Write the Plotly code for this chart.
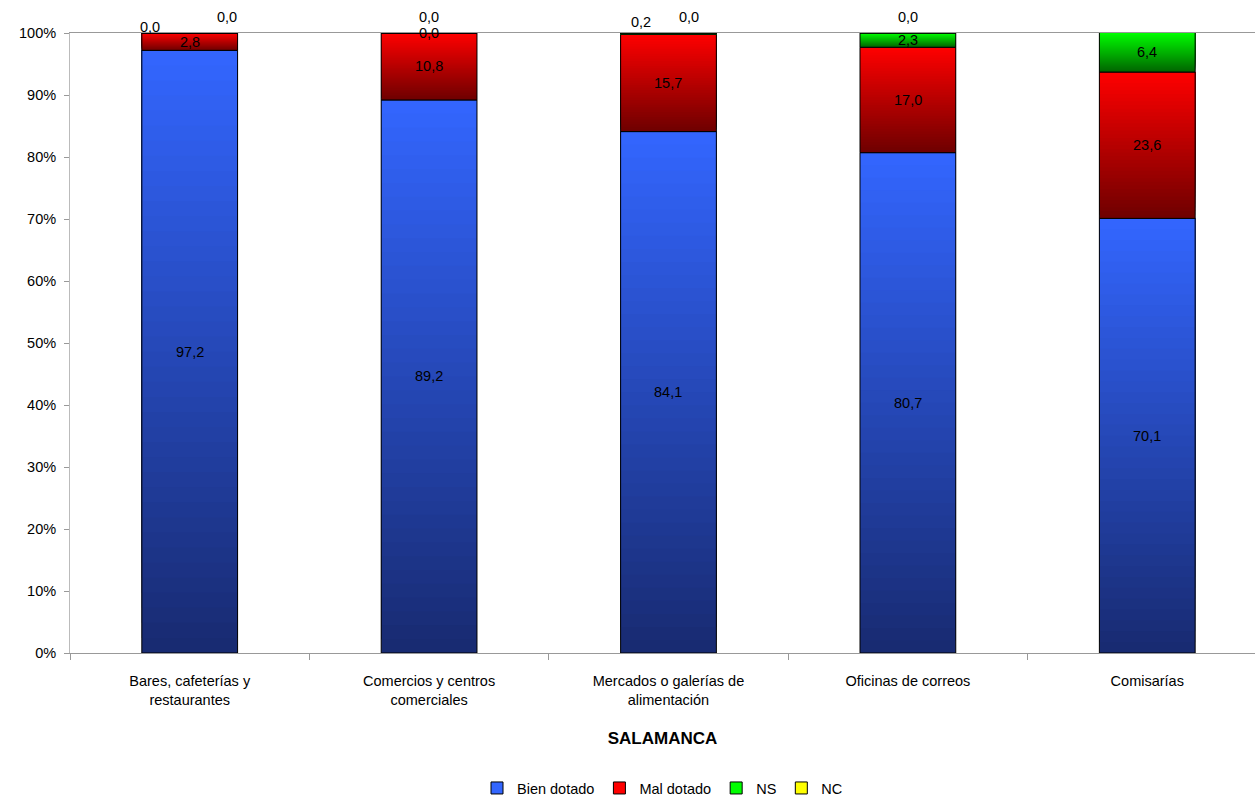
import plotly.graph_objects as go

categories = ["Bares, cafeterías y<br>restaurantes", "Comercios y centros<br>comerciales",
              "Mercados o galerías de<br>alimentación", "Oficinas de correos", "Comisarías"]
bien = [97.2, 89.2, 84.1, 80.7, 70.1]
mal = [2.8, 10.8, 15.7, 17.0, 23.6]
ns = [0.0, 0.0, 0.2, 2.3, 6.4]
nc = [0.0, 0.0, 0.0, 0.0, 0.0]
series_names = ["Bien dotado", "Mal dotado", "NS", "NC"]
series_vals = [bien, mal, ns, nc]
top_colors = [(51, 102, 255), (255, 0, 0), (0, 255, 0), (255, 255, 0)]
bottom_colors = [(24, 42, 112), (110, 0, 0), (0, 100, 0), (110, 110, 0)]
legend_colors = ["#3366FF", "#FF0000", "#00FF00", "#FFFF00"]
yticks = [0, 10, 20, 30, 40, 50, 60, 70, 80, 90, 100]
yticktext = ["%d%%" % v for v in yticks]

FONT = "Liberation Sans, Arial, sans-serif"
FS = 14.5
N = 40
W = 0.4

fig = go.Figure()

cum = [0.0] * len(categories)
bases_all = []
for si, vals in enumerate(series_vals):
    bases_all.append(list(cum))
    tc, bc = top_colors[si], bottom_colors[si]
    for k in range(N):
        t = (k + 0.5) / N
        col = tuple(int(round(bc[j] + (tc[j] - bc[j]) * t)) for j in range(3))
        fig.add_trace(go.Bar(
            x=categories,
            y=[v * (N - k) / N for v in vals],
            base=[c + v * k / N for c, v in zip(cum, vals)],
            width=W,
            marker=dict(color="rgb(%d,%d,%d)" % col, line=dict(width=0)),
            showlegend=False, hoverinfo="skip",
        ))
    # outline
    fig.add_trace(go.Bar(
        x=categories, y=vals, base=list(cum), width=W,
        marker=dict(color="rgba(0,0,0,0)", line=dict(color="black", width=1)),
        showlegend=False, hoverinfo="skip",
    ))
    cum = [c + v for c, v in zip(cum, vals)]

# legend entries
for si, name in enumerate(series_names):
    fig.add_trace(go.Bar(
        x=categories, y=[None] * len(categories), name=name,
        marker=dict(color=legend_colors[si], line=dict(color="black", width=1)),
    ))

def fmt(v):
    return ("%.1f" % v).replace(".", ",")

# data labels
shifts = {
    (2, 0): (-40, 6), (3, 0): (37, 16),
    (2, 1): (0, 0), (3, 1): (0, 16),
    (2, 2): (-27, 12), (3, 2): (21, 16),
    (3, 3): (0, 16), (3, 4): (0, 16),
}
for si, vals in enumerate(series_vals):
    for ci, v in enumerate(vals):
        mid = bases_all[si][ci] + v / 2
        dx, dy = shifts.get((si, ci), (0, 0))
        fig.add_annotation(
            x=categories[ci], y=mid, text=fmt(v), showarrow=False,
            xshift=dx, yshift=dy,
            font=dict(family=FONT, size=FS, color="black"),
        )

fig.update_layout(
    width=1255, height=798,
    barmode="overlay",
    plot_bgcolor="white", paper_bgcolor="white",
    margin=dict(l=70, r=0, t=33, b=145, autoexpand=False),
    font=dict(family=FONT, size=FS, color="black"),
    legend=dict(orientation="h", x=0.5, xanchor="center", y=-0.192, yanchor="top",
                font=dict(family=FONT, size=FS), traceorder="normal",
                itemwidth=30, tracegroupgap=0),
    xaxis=dict(
        range=[-0.5, 4.45], showline=True, linecolor="#999999", linewidth=1,
        mirror=True, ticks="outside", tickson="boundaries", ticklen=6,
        tickcolor="#999999", showgrid=False, automargin=False,
        ticklabelstandoff=15,
        tickfont=dict(family=FONT, size=FS, color="black"),
        title=dict(text="<b>SALAMANCA</b>", font=dict(family=FONT, size=17, color="black"),
                   standoff=24),
    ),
    yaxis=dict(
        range=[0, 100], tickvals=yticks, ticktext=yticktext, showline=True,
        linecolor="#bbbbbb", linewidth=1, ticks="outside", ticklen=5,
        tickcolor="#999999", showgrid=False, zeroline=False, automargin=False,
        ticklabelstandoff=5,
        tickfont=dict(family=FONT, size=FS, color="black"),
    ),
)

fig.write_html("out.html", config={"displayModeBar": False},
               post_script="document.body.style.margin='0';document.body.style.overflow='hidden';")
